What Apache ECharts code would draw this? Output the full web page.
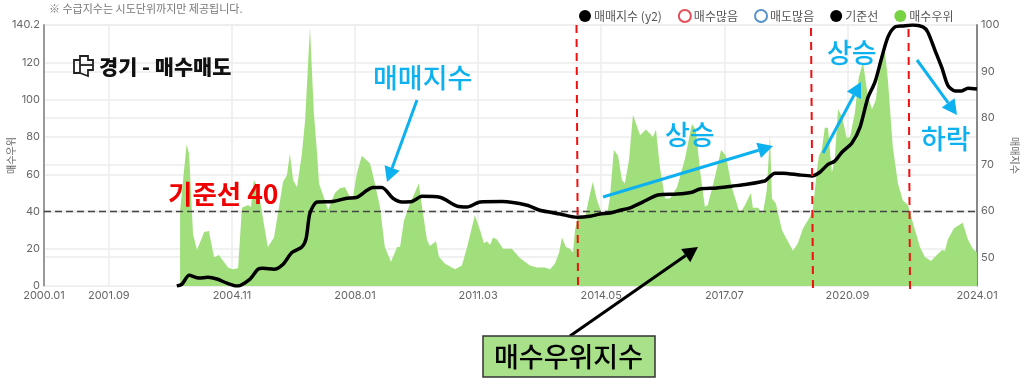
<!DOCTYPE html>
<html>
<head>
<meta charset="utf-8">
<title>경기 - 매수매도</title>
<script src="https://cdn.jsdelivr.net/npm/echarts@6/dist/echarts.min.js"></script>
<style>
  html, body { margin: 0; padding: 0; background: #fff; }
  #chart { width: 1024px; height: 387px; }
</style>
</head>
<body>
<div id="chart"></div>
<script>
// x values are months counted from 2000.01
const xTickMonths = [0, 20, 58, 96, 134, 172, 210, 248, 288];
const xTickLabels = ['2000.01', '2001.09', '2004.11', '2008.01', '2011.03', '2014.05', '2017.07', '2020.09', '2024.01'];
const leftTicks = [0, 20, 40, 60, 80, 100, 120, 140.2];
const rightTicks = [50, 60, 70, 80, 90, 100];

// 매수우위
const buyMonths = [42, 42, 44, 44.8, 46, 47.2, 48.8, 49.4, 50.9, 52.5, 54, 56.8, 58.3, 59.9, 61.1, 63, 63.9, 64.8, 66, 68.2, 69.1, 71, 73.8, 75, 75.9, 76.9, 78.1, 79.6, 80.6, 82.1, 83.3, 84.3, 84.9, 87.7, 89.8, 91.4, 92.9, 94.4, 95.4, 96.6, 98.1, 100.6, 101.5, 103.7, 105.2, 107.1, 107.7, 109, 109.9, 111.1, 113, 115.7, 117, 118.2, 119.1, 121, 121.9, 123.8, 126.9, 129, 130.6, 133, 134.6, 135.8, 136.7, 137.7, 138.6, 139.8, 141.7, 144.4, 146.9, 150, 152.2, 154.6, 156.2, 157.7, 159, 159.9, 161.1, 162.3, 163.3, 163.9, 164.8, 167, 167.9, 169.4, 170.7, 172.2, 173.8, 174.7, 175.9, 177.2, 178.4, 179.3, 180.6, 181.8, 184, 185.8, 188, 188.9, 190.1, 191.7, 193.2, 195.4, 197.8, 200, 201.2, 202.5, 204, 204.9, 207.1, 209, 210.5, 212.3, 214.8, 216.4, 218.2, 218.8, 220.4, 221.9, 223.1, 224.1, 224.7, 225.9, 227.8, 229.3, 231.2, 232.7, 234.3, 236.4, 237.3, 238.6, 239.2, 240.1, 241, 242, 243.2, 244.1, 245.1, 246.3, 247.8, 248.8, 250.3, 251.5, 252.8, 254.3, 255.6, 256.8, 258, 259.3, 260.5, 262, 263.6, 265.1, 266.7, 268.2, 270.4, 271.9, 273.8, 275.6, 277.2, 278.1, 279, 280.9, 283.6, 285.2, 286.7, 288];
const buyValues = [0, 40, 76, 71, 28, 19.5, 26, 29, 29.5, 15.5, 16.6, 10, 9, 9.6, 42, 43.5, 42.5, 57, 53, 30, 21, 26, 56, 59.6, 71, 57, 53, 71, 89, 139, 93, 71, 55, 41, 50, 52.6, 53, 48, 48, 60.6, 70, 66, 60, 42.6, 21, 13, 13, 21, 21, 35, 44.5, 55, 39, 25, 21.5, 24, 15.7, 12, 9, 11, 21, 38, 30, 23, 24, 22, 26, 25, 20, 20, 15, 11, 10, 10, 9, 12, 18, 26, 21, 20, 18, 30, 37, 36.5, 44.5, 56, 46, 39, 38, 48, 73, 70, 57, 55, 68, 92, 81, 84, 80, 84, 64, 47, 47, 53, 68, 87, 84, 62, 42.6, 43.5, 58.5, 73, 70, 53, 39, 43.5, 50, 42, 42, 39, 51.5, 81, 47, 44.5, 30, 25, 19, 23, 31, 37, 41, 62, 70, 73, 85, 85, 61, 68, 95, 91, 79.5, 80, 93, 112, 120, 102, 95, 100, 120, 131, 110.6, 75, 55, 46, 43.5, 34, 21, 15.6, 13.4, 16.6, 19.3, 19, 25, 31, 34, 25, 20, 18];

// 매매지수 (y2)
const indexMonths = [41, 42.6, 44.8, 47.8, 50.6, 53.4, 56.5, 59.6, 63.6, 66, 67.6, 71, 73.8, 76.5, 79.6, 80.9, 82.1, 84.3, 89.2, 93.5, 96.6, 99.7, 101.5, 104.3, 107.7, 110.5, 113.6, 116.7, 122.2, 127.5, 130.6, 134.6, 141.4, 149.1, 153.1, 159.3, 164.5, 168.5, 171.6, 174.7, 177.8, 180.9, 184.9, 189.5, 195.4, 200, 202.5, 207.7, 212.3, 217, 222.5, 223.5, 225.6, 228.1, 233.3, 237, 239.5, 242, 244.1, 246.3, 249.4, 251.9, 254.3, 256.5, 258.6, 260.5, 262.7, 265.1, 268.2, 271.3, 272.8, 275, 277.2, 279, 281.2, 283.3, 285.2, 288];
const indexValues = [43.8, 44.2, 46.1, 45.5, 45.7, 45.3, 44.4, 43.8, 45.3, 47.4, 47.6, 47.4, 48.5, 51, 52.2, 54, 59.5, 61.9, 62, 62.7, 62.9, 64.4, 65, 65, 62.7, 61.9, 62, 63.1, 62.9, 61, 60.8, 61.9, 62, 61.2, 60.1, 59.3, 58.6, 58.8, 59.3, 59.5, 60.1, 60.6, 61.9, 63.4, 63.6, 64, 64.7, 64.9, 65.3, 65.7, 66.4, 67, 68.1, 68.1, 67.7, 67.5, 68.3, 70, 70.7, 72.6, 74.6, 78, 84.3, 87.7, 93, 97.4, 99.6, 99.8, 100, 99.6, 98.5, 94.6, 90.7, 87, 85.8, 85.8, 86.4, 86.2];

const baseMonths = [0, 288];
const baseValues = [40, 40];

const toPairs = (xs, ys) => xs.map((x, i) => [x, ys[i]]);

const FONT = '"Noto Sans CJK KR", "Noto Sans", sans-serif';
const NUM_FONT = 'Inter, "Noto Sans", sans-serif';
const BLUE = '#0db1ef';

// line + triangle head for the annotations
function arrow(x1, y1, x2, y2, color, width, headLen, headHalf) {
  const a = Math.atan2(y2 - y1, x2 - x1);
  const bx = x2 - headLen * Math.cos(a);
  const by = y2 - headLen * Math.sin(a);
  const nx = -Math.sin(a) * headHalf;
  const ny = Math.cos(a) * headHalf;
  return [
    { type: 'line', shape: { x1, y1, x2: bx, y2: by }, style: { stroke: color, lineWidth: width }, z: 50 },
    { type: 'polygon', shape: { points: [[x2, y2], [bx + nx, by + ny], [bx - nx, by - ny]] }, style: { fill: color }, z: 50 }
  ];
}

function label(text, x, y, size, color, weight) {
  return {
    type: 'text', x, y, z: 51,
    style: { text, fill: color, font: (weight || 'normal') + ' ' + size + 'px ' + FONT, textVerticalAlign: 'middle' }
  };
}

function redLine(x1, y1, x2, y2) {
  return { type: 'line', shape: { x1, y1, x2, y2 }, style: { stroke: '#f01010', lineWidth: 2, lineDash: [8, 6] }, z: 49 };
}

const annotations = [
  redLine(576.5, 25, 578, 286),
  redLine(811, 28, 813, 289),
  redLine(908.5, 29, 910, 290),
  label('※ 수급지수는 시도단위까지만 제공됩니다.', 49, 9, 11, '#777'),
  // logo
  { type: 'polyline', shape: { points: [[80, 60], [74, 60], [74, 73], [80, 73], [80, 56], [88, 56], [88, 60], [93, 60], [93, 70], [88, 70], [88, 76], [80, 73]] }, style: { stroke: '#222', lineWidth: 1.8, fill: 'none' }, z: 51 },
  { type: 'line', shape: { x1: 80, y1: 65, x2: 93, y2: 65 }, style: { stroke: '#222', lineWidth: 1.8 }, z: 51 },
  label('경기 - 매수매도', 99, 67, 20.8, '#111', '900'),
  label('매매지수', 373, 78, 27, BLUE, '500'),
  label('기준선 40', 168, 194, 26.5, '#f00000', 'bold'),
  label('상승', 665, 135, 27, BLUE, '500'),
  label('상승', 827, 53, 27, BLUE, '500'),
  label('하락', 921, 139, 27, BLUE, '500'),
  ...arrow(417, 100, 387, 182, BLUE, 3, 15, 8),
  ...arrow(603, 197, 773, 146, BLUE, 3, 15, 8),
  ...arrow(823, 153, 861, 82, BLUE, 3, 15, 8),
  ...arrow(917, 60, 957, 115, BLUE, 3, 15, 8),
  ...arrow(570, 336, 698, 247, '#000', 3, 15, 8),
  { type: 'rect', shape: { x: 483, y: 336, width: 172, height: 41 }, style: { fill: '#a9e08a', stroke: '#333', lineWidth: 1.5 }, z: 50 },
  label('매수우위지수', 494, 357, 27, '#000', '500')
];

const chart = echarts.init(document.getElementById('chart'), null, { renderer: 'canvas' });

const splitLine = { show: true, lineStyle: { color: '#ececec', width: 1.5 } };

const option = {
  animation: false,
  backgroundColor: '#fff',
  textStyle: { fontFamily: FONT },
  legend: {
    left: 574,
    top: 4,
    itemWidth: 12,
    itemHeight: 12,
    itemGap: 16,
    icon: 'circle',
    textStyle: { fontFamily: FONT, fontSize: 12, color: '#555', padding: [0, 0, 0, -2] },
    data: ['매매지수 (y2)', '매수많음', '매도많음', '기준선', '매수우위']
  },
  grid: { left: 44, right: 47, top: 25, bottom: 101, outerBoundsMode: 'none' },
  xAxis: {
    type: 'value',
    min: 0,
    max: 288,
    axisLine: { show: true, lineStyle: { color: '#eee' } },
    axisTick: { show: false, customValues: xTickMonths },
    splitLine,
    axisLabel: {
      customValues: xTickMonths,
      margin: 4,
      color: '#666',
      fontFamily: NUM_FONT,
      fontSize: 11,
      hideOverlap: false,
      formatter: v => xTickLabels[xTickMonths.indexOf(v)]
    }
  },
  yAxis: [
    {
      type: 'value',
      min: 0,
      max: 140.2,
      name: '매수우위',
      nameLocation: 'middle',
      nameGap: 28,
      nameMoveOverlap: false,
      nameTextStyle: { fontSize: 10, color: '#666', fontFamily: FONT },
      axisLine: { show: true, lineStyle: { color: '#999', width: 2 } },
      axisTick: { show: false, customValues: leftTicks },
      splitLine,
      axisLabel: { customValues: leftTicks, margin: 4, color: '#666', fontFamily: NUM_FONT, fontSize: 11 }
    },
    {
      type: 'value',
      min: 43.8,
      max: 100,
      position: 'right',
      name: '매매지수',
      nameLocation: 'middle',
      nameGap: 29,
      nameRotate: -90,
      nameTextStyle: { fontSize: 10, color: '#666', fontFamily: FONT },
      axisLine: { show: true, lineStyle: { color: '#888', width: 2 } },
      axisTick: { show: false, customValues: rightTicks },
      splitLine,
      axisLabel: { customValues: rightTicks, margin: 4, color: '#666', fontFamily: NUM_FONT, fontSize: 11 }
    }
  ],
  series: [
    {
      name: '매수우위',
      type: 'line',
      yAxisIndex: 0,
      data: toPairs(buyMonths, buyValues),
      showSymbol: false,
      lineStyle: { width: 0 },
      itemStyle: { color: '#77d344' },
      areaStyle: { color: '#9cdd76', opacity: 0.95 },
      z: 2
    },
    {
      name: '기준선',
      type: 'line',
      yAxisIndex: 0,
      data: toPairs(baseMonths, baseValues),
      showSymbol: false,
      itemStyle: { color: '#000' },
      lineStyle: { color: '#444', width: 1.5, type: [7, 4] },
      z: 3
    },
    {
      name: '매매지수 (y2)',
      type: 'line',
      yAxisIndex: 1,
      data: toPairs(indexMonths, indexValues),
      showSymbol: false,
      smooth: 0.25,
      itemStyle: { color: '#000' },
      lineStyle: { color: '#000', width: 3.5 },
      z: 4
    },
    // legend only, nothing plotted
    { name: '매수많음', type: 'scatter', data: [], itemStyle: { color: '#fff', borderColor: '#e02030', borderWidth: 2 } },
    { name: '매도많음', type: 'scatter', data: [], itemStyle: { color: '#fff', borderColor: '#2f78bd', borderWidth: 2 } }
  ],
  graphic: annotations
};

chart.setOption(option);
</script>
</body>
</html>
